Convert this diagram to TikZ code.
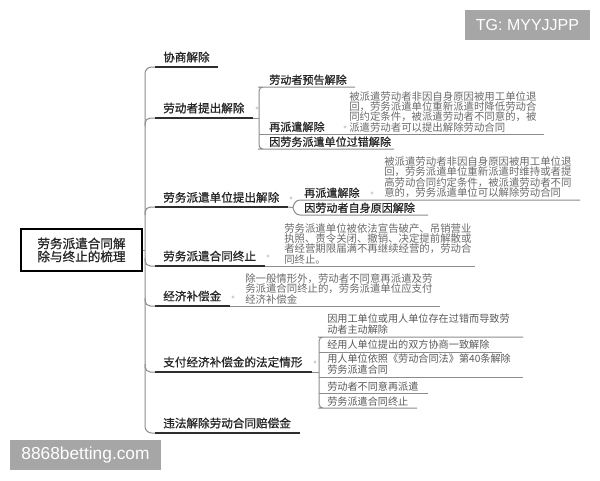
\documentclass[tikz,border=0pt]{standalone}
\usepackage{fontspec}
\setmainfont{Noto Sans CJK SC}
\newfontfamily\cjkbold[FakeBold=0.8]{Noto Sans CJK SC}
\newfontfamily\latfont{Liberation Sans}
\definecolor{mainc}{HTML}{262626}
\definecolor{descc}{HTML}{6A6A6A}
\definecolor{leafc}{HTML}{5A5A5A}
\definecolor{linec}{HTML}{2E2E2E}
\definecolor{thinc}{HTML}{8C8C8C}
\definecolor{knobc}{HTML}{D0D0D0}
\definecolor{wmgray}{HTML}{A6A6A6}
\begin{document}
\begin{tikzpicture}[x=0.75pt,y=-0.75pt,
 mainlab/.style={anchor=base west,inner sep=0pt,text=mainc,font=\cjkbold\fontsize{8.7pt}{10pt}\selectfont},
 sublab/.style={anchor=base west,inner sep=0pt,text=mainc,font=\cjkbold\fontsize{8.3pt}{10pt}\selectfont},
 desc/.style={anchor=base west,inner sep=0pt,text=descc,align=left,font=\fontsize{7.8pt}{7.75pt}\selectfont},
 leaf/.style={anchor=base west,inner sep=0pt,text=leafc,align=left,font=\fontsize{7.6pt}{7.9pt}\selectfont},
 darkline/.style={draw=linec,line width=1.5pt},
 thinline/.style={draw=thinc,line width=0.75pt},
 knob/.style={circle,fill=knobc,inner sep=0pt,minimum size=2.4pt},
 rootbox/.style={draw=black,line width=1.5pt,minimum width=90.75pt,minimum height=31.5pt,inner sep=0pt,align=center,text=mainc,font=\cjkbold\fontsize{9.45pt}{9.75pt}\selectfont},
 wmbox/.style={fill=wmgray,text=white,inner sep=0pt,font=\latfont}]
\useasboundingbox[fill=white] (0,0) rectangle (600,480);

% watermarks
\node[wmbox,minimum width=93.75pt,minimum height=22.5pt,font=\latfont\fontsize{12pt}{14pt}\selectfont] (tg) at (527.5,25) {TG: MYYJJPP};
\node[wmbox,minimum width=113.25pt,minimum height=22.5pt,font=\latfont\fontsize{13pt}{15pt}\selectfont] (bet) at (85.5,455) {8868betting.com};

% root
\node[rootbox] (root) at (81.5,250) {劳务派遣合同解\\除与终止的梳理};
\coordinate (spR) at (145,250);
\draw[thinline] (root.east) -- (spR);

% main branch labels
\node[mainlab] (b1) at (163,61.5) {协商解除};
\node[mainlab] (b2) at (163,112.5) {劳动者提出解除};
\node[mainlab] (b3) at (163,201.8) {劳务派遣单位提出解除};
\node[mainlab] (b4) at (163,260.5) {劳务派遣合同终止};
\node[mainlab] (b5) at (163,300.5) {经济补偿金};
\node[mainlab] (b6) at (163,366.5) {支付经济补偿金的法定情形};
\node[mainlab] (b7) at (163,427.5) {违法解除劳动合同赔偿金};

% underline coordinates
\coordinate (u1s) at (155,67);  \coordinate (u1e) at (218,67);
\coordinate (u2s) at (155,118); \coordinate (u2e) at (253,118);
\coordinate (u3s) at (155,207); \coordinate (u3e) at (288,207);
\coordinate (u4s) at (155,266); \coordinate (u4e) at (265,266); \coordinate (u4x) at (475,266);
\coordinate (u5s) at (155,306); \coordinate (u5e) at (230,306); \coordinate (u5x) at (440,306);
\coordinate (u6s) at (155,372); \coordinate (u6e) at (312,372);
\coordinate (u7s) at (155,433); \coordinate (u7e) at (300,433);

% spine
\coordinate (spT) at (145,67);
\coordinate (spB) at (145,433);
\draw[thinline,rounded corners=5pt] (u1s) -- (spT) -- (spB) -- (u7s);
\draw[thinline,rounded corners=4pt] (145,126) |- (u2s);
\draw[thinline,rounded corners=4pt] (145,215) |- (u3s);
\draw[thinline,rounded corners=4pt] (145,258) |- (u4s);
\draw[thinline,rounded corners=4pt] (145,298) |- (u5s);
\draw[thinline,rounded corners=4pt] (145,364) |- (u6s);

% dark underlines
\foreach \n in {1,...,7} {\draw[darkline] (u\n s) -- (u\n e);}
\draw[thinline] (u4e) -- (u4x);
\draw[thinline] (u5e) -- (u5x);

% knobs
\node[knob] (k2) at (257,108) {};
\node[knob] (k3) at (291,198) {};
\node[knob] (k4) at (268,256) {};
\node[knob] (k5) at (233,297) {};
\node[knob] (k6) at (315,362) {};

% ---- group A: 劳动者提出解除
\node[sublab] (a1) at (269,84) {劳动者预告解除};
\node[sublab] (a2) at (269,131) {再派遣解除};
\node[sublab] (a3) at (269,146) {因劳务派遣单位过错解除};
\node[knob] (ka2) at (345,127) {};
\node[desc] (da2) at (349,131) {被派遣劳动者非因自身原因被用工单位退\\回，劳务派遣单位重新派遣时降低劳动合\\同约定条件，被派遣劳动者不同意的，被\\派遣劳动者可以提出解除劳动合同};
\coordinate (a1s) at (262,87);  \coordinate (a1e) at (355,87);
\coordinate (a2s) at (259,134); \coordinate (a2e) at (544,134);
\coordinate (a3s) at (262,149); \coordinate (a3e) at (394,149);
\coordinate (aJ) at (259,118);
\draw[thinline] (u2e) -- (aJ);
\draw[thinline,rounded corners=3pt] (a1e) -- (a1s) -| (aJ) |- (a3s) -- (a3e);
\draw[thinline] (a2s) -- (a2e);

% ---- group B: 劳务派遣单位提出解除
\node[sublab] (c1) at (304,197) {再派遣解除};
\node[sublab] (c2) at (304,212) {因劳动者自身原因解除};
\node[knob] (kc1) at (372,193) {};
\node[desc] (dc1) at (384,196.5) {被派遣劳动者非因自身原因被用工单位退\\回，劳务派遣单位重新派遣时维持或者提\\高劳动合同约定条件，被派遣劳动者不同\\意的，劳务派遣单位可以解除劳动合同};
\coordinate (c1s) at (300,200); \coordinate (c1e) at (580,200);
\coordinate (c2s) at (300,215); \coordinate (c2e) at (428,215);
\coordinate (cJ) at (293,207.5);
\draw[thinline] (u3e) -- (cJ);
\draw[thinline] (c1e) -- (c1s) to[out=180,in=80] (cJ) to[out=-80,in=180] (c2s) -- (c2e);

% ---- desc of 终止 and 经济补偿金
\node[desc] (d4) at (284,263) {劳务派遣单位被依法宣告破产、吊销营业\\执照、责令关闭、撤销、决定提前解散或\\者经营期限届满不再继续经营的，劳动合\\同终止。};
\node[desc] (d5) at (245,303) {除一般情形外，劳动者不同意再派遣及劳\\务派遣合同终止的，劳务派遣单位应支付\\经济补偿金};

% ---- group C: 支付经济补偿金的法定情形
\node[leaf] (e1) at (327,333.5) {因用工单位或用人单位存在过错而导致劳\\动者主动解除};
\node[leaf] (e2) at (327,348) {经用人单位提出的双方协商一致解除};
\node[leaf] (e3) at (327,373.5) {用人单位依照《劳动合同法》第40条解除\\劳务派遣合同};
\node[leaf] (e4) at (327,390) {劳动者不同意再派遣};
\node[leaf] (e5) at (327,405) {劳务派遣合同终止};
\coordinate (e1s) at (322,337); \coordinate (e1e) at (523,337);
\coordinate (e2s) at (319,352); \coordinate (e2e) at (502,352);
\coordinate (e3s) at (319,377); \coordinate (e3e) at (523,377);
\coordinate (e4s) at (319,393); \coordinate (e4e) at (428,393);
\coordinate (e5s) at (322,408); \coordinate (e5e) at (417,408);
\coordinate (eJ) at (319,372);
\draw[thinline] (u6e) -- (eJ);
\draw[thinline,rounded corners=3pt] (e1e) -- (e1s) -| (eJ) |- (e5s) -- (e5e);
\draw[thinline] (e2s) -- (e2e);
\draw[thinline] (e3s) -- (e3e);
\draw[thinline] (e4s) -- (e4e);
\end{tikzpicture}
\end{document}
